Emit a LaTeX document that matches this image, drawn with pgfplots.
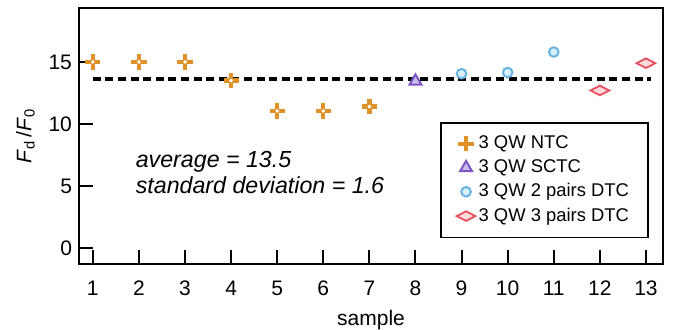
\documentclass[border=0pt]{standalone}
\usepackage{pgfplots}
\pgfplotsset{compat=1.18}
\usepackage{fontspec}
\setmainfont{Liberation Sans}
\definecolor{crossor}{RGB}{222,146,40}
\definecolor{tridraw}{RGB}{125,85,195}
\definecolor{trifill}{RGB}{205,190,240}
\definecolor{circdraw}{RGB}{105,180,225}
\definecolor{circfill}{RGB}{215,238,252}
\definecolor{diadraw}{RGB}{230,80,95}
\definecolor{diafill}{RGB}{255,218,220}
\begin{document}
\begin{tikzpicture}
\begin{axis}[
  at={(0,0)}, anchor=south west,
  scale only axis, width=292pt, height=128pt,
  xmin=0.70, xmax=13.37, ymin=-1.29, ymax=19.35,
  xtick={1,...,13}, ytick={0,5,10,15},
  tick align=inside, major tick length=7pt,
  xtick pos=bottom, ytick pos=left,
  axis line style={line width=1pt},
  every tick/.style={line width=1pt, black},
  /pgf/number format/assume math mode=true,
  tick label style={font=\fontsize{10.5}{12}\selectfont},
  xticklabel style={yshift=-5pt},
  xlabel={sample},
  xlabel style={font=\fontsize{10.5}{12}\selectfont, yshift=-0.5pt},
  ylabel={\textit{F}\textsubscript{d}\,/\textit{F}\textsubscript{0}},
  ylabel style={font=\fontsize{10.5}{12}\selectfont, yshift=0pt},
  legend style={at={(rel axis cs:0.618,0.555)}, anchor=north west,
    font=\fontsize{9.2}{10}\selectfont, draw=black, line width=0.8pt,
    inner xsep=8pt, inner ysep=5pt, row sep=0.8pt,
    nodes={inner sep=1.6pt}},
  legend cell align=left,
  clip=false,
]
\addplot[only marks, mark=+, mark size=3.8pt, crossor, mark options={line width=2.2pt}]
  coordinates {(1,15.0) (2,15.0) (3,15.0) (4,13.5) (5,11.05) (6,11.05) (7,11.4)};
\addlegendentry{3 QW NTC}
\addplot[only marks, mark=triangle*, mark size=3.4pt, draw=tridraw, fill=trifill, mark options={line width=1pt}]
  coordinates {(8,13.45)};
\addlegendentry{3 QW SCTC}
\addplot[only marks, mark=*, mark size=2.4pt, draw=circdraw, fill=circfill, mark options={line width=1pt}]
  coordinates {(9,14.05) (10,14.15) (11,15.8)};
\addlegendentry{3 QW 2 pairs DTC}
\addplot[only marks, mark=diamond*, mark size=2.4pt, draw=diadraw, fill=diafill, mark options={line width=0.9pt, xscale=2.6}]
  coordinates {(12,12.7) (13,14.9)};
\addlegendentry{3 QW 3 pairs DTC}
\addplot[forget plot, only marks, mark=*, mark size=0.7pt, white, draw=white]
  coordinates {(1,15.0) (2,15.0) (3,15.0) (4,13.5) (5,11.05) (6,11.05) (7,11.4)};
\addplot[forget plot, black, line width=2pt, dash pattern=on 4pt off 2.3pt]
  coordinates {(1,13.6) (13.1,13.6)};
\node[anchor=west, align=left, font=\fontsize{11.6}{13}\selectfont\itshape]
  at (axis cs:1.78,6.05) {average = 13.5\\standard deviation = 1.6};
\end{axis}
\pgfresetboundingbox
\path[use as bounding box] (-39.5pt,-33pt) rectangle (302.5pt,132pt);
\end{tikzpicture}
\end{document}
